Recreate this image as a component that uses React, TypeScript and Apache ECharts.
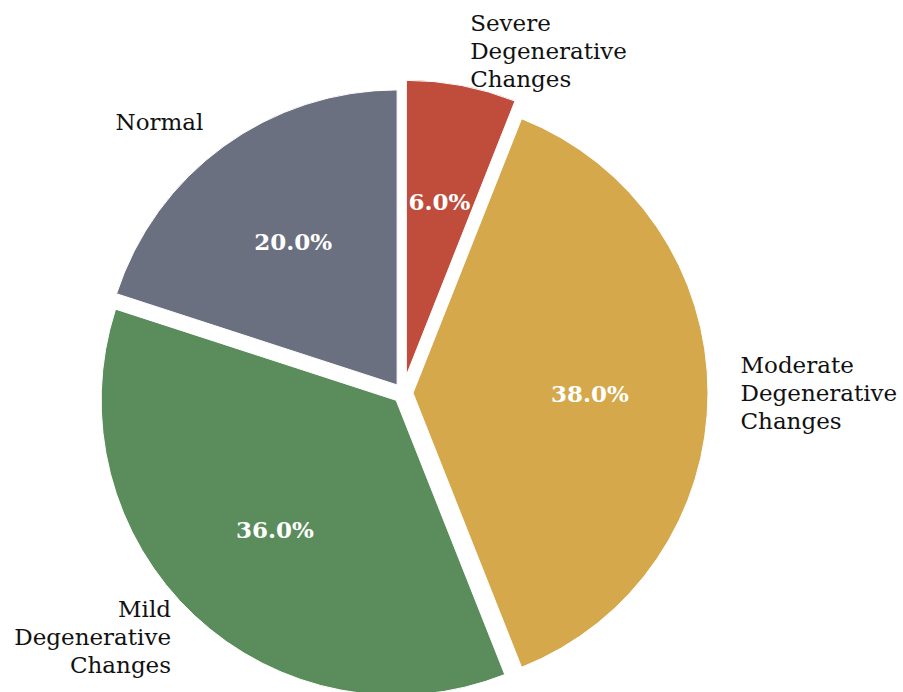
import React, { useEffect, useRef } from "react";
import * as echarts from "echarts";

const categories = [
  "Severe\nDegenerative\nChanges",
  "Moderate\nDegenerative\nChanges",
  "Mild\nDegenerative\nChanges",
  "Normal",
];
const values = [6, 38, 36, 20];
const colors = ["#c04c3b", "#d4a84b", "#5b8c5b", "#6b7080"];
const explodeSmall = 10;
const explodeBig = 18;
const bigIndex = 0;

const CX = 403;
const CY = 393;
const R = 295;
const FONT = "DejaVu Serif";

export default function App() {
  const ref = useRef<HTMLDivElement>(null);
  useEffect(() => {
    if (!ref.current) return;
    const chart = echarts.init(ref.current, null, { renderer: "svg" });
    const total = values.reduce((a, b) => a + b, 0);

    const makeSeries = (big: boolean, pct: boolean) => ({
      type: "pie",
      center: [CX, CY],
      radius: pct ? [R * 0.2 - 6, R] : [0, R],
      startAngle: 90,
      clockwise: true,
      selectedMode: "multiple",
      selectedOffset: big ? explodeBig : explodeSmall,
      avoidLabelOverlap: false,
      silent: true,
      z: pct ? 3 : 2,
      labelLine: { show: false, length: R * 0.1, length2: 0 },
      data: categories.map((name, i) => {
        const visible = big ? i === bigIndex : i !== bigIndex;
        return {
          name,
          value: values[i],
          selected: true,
          itemStyle: {
            color: pct || !visible ? "transparent" : colors[i],
            borderColor: pct || !visible ? "transparent" : "#ffffff",
            borderWidth: pct || !visible ? 0 : 1,
          },
          label: pct
            ? {
                show: visible,
                position: "inside",
                formatter: ((values[i] / total) * 100).toFixed(1) + "%",
                color: "#ffffff",
                fontFamily: FONT,
                fontWeight: "bold",
                fontSize: 23,
              }
            : {
                show: visible,
                position: "outside",
                distanceToLabelLine: 3,
                color: "#111111",
                fontFamily: FONT,
                fontSize: 23,
                lineHeight: 28,
                align: i === 2 || i === 3 ? "right" : "left",
                formatter: i === bigIndex ? "{b}\n{s| }" : "{b}",
                rich: { s: { fontSize: 6, lineHeight: 12 } },
              },
        };
      }),
    });

    chart.setOption({
      animation: false,
      backgroundColor: "#ffffff",
      series: [
        makeSeries(false, false),
        makeSeries(true, false),
        makeSeries(false, true),
        makeSeries(true, true),
      ],
    });
    return () => chart.dispose();
  }, []);
  return (
    <div
      ref={ref}
      style={{ position: "fixed", left: 0, top: 0, width: 903, height: 692 }}
    />
  );
}
